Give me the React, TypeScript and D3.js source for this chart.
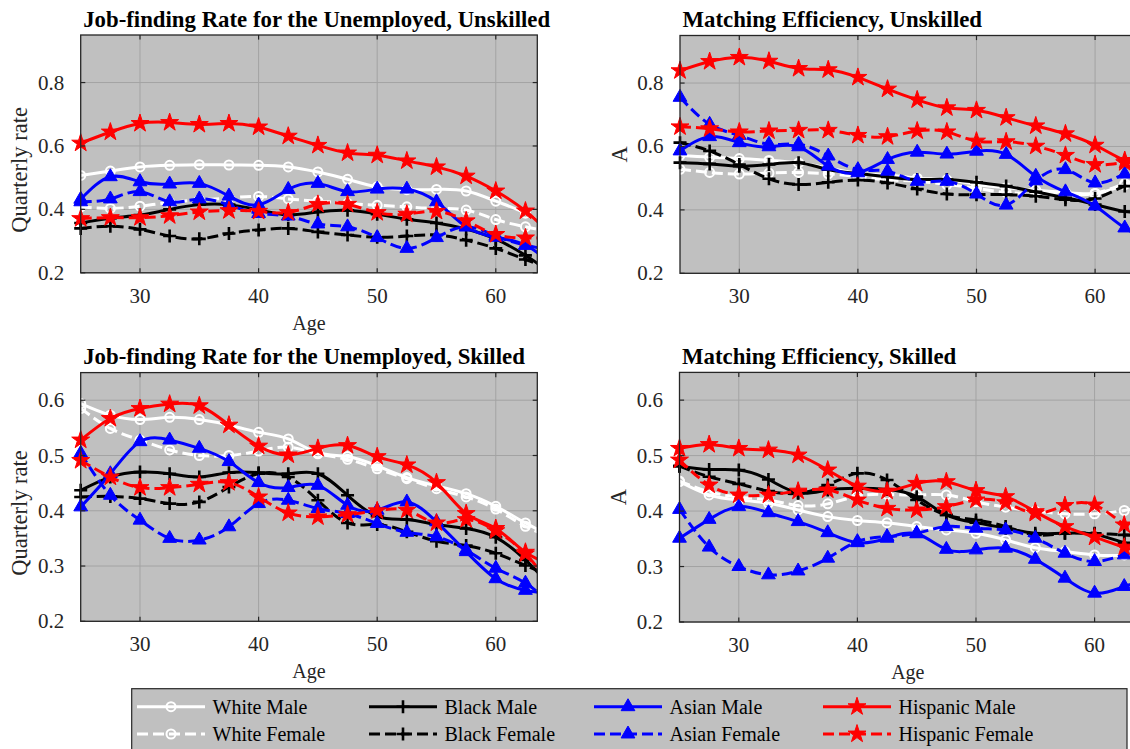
import React from "react";
import * as d3 from "d3";

// Ages at which each series is evaluated (the last one lies just past the axis limit)
const ages = [25, 27.5, 30, 32.5, 35, 37.5, 40, 42.5, 45, 47.5, 50, 52.5, 55, 57.5, 60, 62.5, 65];
const ageTicks = [30, 40, 50, 60];

// Job-finding rate for the unemployed, unskilled
const jfUnskWhiteMale = [0.507, 0.521, 0.534, 0.539, 0.541, 0.54, 0.539, 0.534, 0.518, 0.495, 0.471, 0.462, 0.463, 0.458, 0.426, 0.388, 0.33];
const jfUnskWhiteFemale = [0.408, 0.403, 0.41, 0.422, 0.43, 0.436, 0.441, 0.433, 0.426, 0.419, 0.413, 0.408, 0.403, 0.398, 0.368, 0.345, 0.325];
const jfUnskBlackMale = [0.357, 0.372, 0.382, 0.4, 0.415, 0.415, 0.398, 0.383, 0.392, 0.397, 0.385, 0.369, 0.357, 0.338, 0.306, 0.255, 0.19];
const jfUnskBlackFemale = [0.34, 0.347, 0.337, 0.316, 0.307, 0.324, 0.335, 0.34, 0.329, 0.319, 0.312, 0.316, 0.319, 0.303, 0.277, 0.242, 0.21];
const jfUnskAsianMale = [0.432, 0.503, 0.487, 0.48, 0.482, 0.442, 0.414, 0.463, 0.482, 0.456, 0.464, 0.464, 0.424, 0.345, 0.312, 0.287, 0.22];
const jfUnskAsianFemale = [0.424, 0.433, 0.456, 0.424, 0.433, 0.414, 0.387, 0.379, 0.354, 0.345, 0.311, 0.277, 0.311, 0.345, 0.316, 0.287, 0.27];
const jfUnskHispanicMale = [0.609, 0.644, 0.671, 0.674, 0.668, 0.671, 0.66, 0.631, 0.602, 0.578, 0.571, 0.553, 0.534, 0.505, 0.458, 0.395, 0.31];
const jfUnskHispanicFemale = [0.371, 0.374, 0.374, 0.38, 0.392, 0.396, 0.394, 0.39, 0.416, 0.416, 0.39, 0.385, 0.394, 0.364, 0.321, 0.31, 0.31];

// Matching efficiency, unskilled
const meUnskWhiteMale = [0.572, 0.566, 0.562, 0.556, 0.548, 0.532, 0.515, 0.51, 0.5, 0.495, 0.48, 0.47, 0.462, 0.455, 0.452, 0.48, 0.52];
const meUnskWhiteFemale = [0.528, 0.518, 0.513, 0.516, 0.518, 0.514, 0.505, 0.495, 0.49, 0.48, 0.468, 0.455, 0.452, 0.448, 0.452, 0.483, 0.51];
const meUnskBlackMale = [0.549, 0.545, 0.538, 0.543, 0.549, 0.527, 0.515, 0.504, 0.496, 0.496, 0.487, 0.475, 0.457, 0.438, 0.417, 0.395, 0.39];
const meUnskBlackFemale = [0.612, 0.586, 0.543, 0.498, 0.48, 0.487, 0.494, 0.485, 0.466, 0.45, 0.448, 0.448, 0.443, 0.432, 0.436, 0.475, 0.5];
const meUnskAsianMale = [0.586, 0.631, 0.612, 0.599, 0.599, 0.538, 0.517, 0.559, 0.582, 0.576, 0.585, 0.575, 0.506, 0.457, 0.412, 0.343, 0.3];
const meUnskAsianFemale = [0.755, 0.67, 0.635, 0.607, 0.607, 0.57, 0.527, 0.522, 0.49, 0.49, 0.45, 0.415, 0.492, 0.527, 0.485, 0.513, 0.53];
const meUnskHispanicMale = [0.839, 0.868, 0.881, 0.869, 0.846, 0.842, 0.818, 0.781, 0.747, 0.722, 0.714, 0.691, 0.665, 0.64, 0.604, 0.556, 0.53];
const meUnskHispanicFemale = [0.662, 0.656, 0.646, 0.649, 0.651, 0.651, 0.635, 0.631, 0.649, 0.646, 0.617, 0.615, 0.601, 0.572, 0.543, 0.549, 0.55];

// Job-finding rate for the unemployed, skilled
const jfSkWhiteMale = [0.594, 0.573, 0.565, 0.569, 0.565, 0.555, 0.542, 0.53, 0.505, 0.498, 0.481, 0.46, 0.445, 0.431, 0.408, 0.378, 0.35];
const jfSkWhiteFemale = [0.585, 0.549, 0.528, 0.51, 0.5, 0.5, 0.508, 0.515, 0.503, 0.493, 0.476, 0.458, 0.44, 0.425, 0.403, 0.372, 0.35];
const jfSkBlackMale = [0.437, 0.461, 0.47, 0.467, 0.461, 0.469, 0.469, 0.467, 0.467, 0.428, 0.39, 0.384, 0.375, 0.368, 0.352, 0.311, 0.255];
const jfSkBlackFemale = [0.425, 0.426, 0.422, 0.413, 0.416, 0.443, 0.467, 0.461, 0.419, 0.378, 0.375, 0.362, 0.345, 0.337, 0.323, 0.301, 0.28];
const jfSkAsianMale = [0.407, 0.467, 0.525, 0.528, 0.513, 0.489, 0.451, 0.442, 0.446, 0.41, 0.401, 0.416, 0.38, 0.326, 0.277, 0.256, 0.25];
const jfSkAsianFemale = [0.504, 0.428, 0.383, 0.35, 0.347, 0.371, 0.413, 0.419, 0.404, 0.395, 0.377, 0.361, 0.353, 0.329, 0.296, 0.269, 0.225];
const jfSkHispanicMale = [0.528, 0.567, 0.585, 0.593, 0.59, 0.555, 0.517, 0.501, 0.513, 0.518, 0.498, 0.483, 0.451, 0.395, 0.368, 0.325, 0.3];
const jfSkHispanicFemale = [0.491, 0.461, 0.442, 0.442, 0.448, 0.451, 0.425, 0.396, 0.389, 0.393, 0.4, 0.401, 0.378, 0.384, 0.364, 0.322, 0.255];

// Matching efficiency, skilled
const meSkWhiteMale = [0.453, 0.429, 0.42, 0.414, 0.402, 0.39, 0.383, 0.379, 0.372, 0.366, 0.36, 0.348, 0.334, 0.327, 0.321, 0.321, 0.33];
const meSkWhiteFemale = [0.454, 0.435, 0.425, 0.42, 0.41, 0.413, 0.427, 0.43, 0.429, 0.429, 0.417, 0.407, 0.4, 0.395, 0.395, 0.401, 0.41];
const meSkBlackMale = [0.481, 0.475, 0.474, 0.457, 0.433, 0.438, 0.441, 0.439, 0.426, 0.393, 0.379, 0.369, 0.36, 0.36, 0.358, 0.343, 0.33];
const meSkBlackFemale = [0.481, 0.462, 0.449, 0.436, 0.432, 0.447, 0.468, 0.456, 0.42, 0.393, 0.384, 0.372, 0.357, 0.36, 0.36, 0.357, 0.355];
const meSkAsianMale = [0.351, 0.385, 0.408, 0.397, 0.381, 0.361, 0.343, 0.351, 0.359, 0.331, 0.33, 0.333, 0.313, 0.279, 0.252, 0.264, 0.28];
const meSkAsianFemale = [0.403, 0.335, 0.3, 0.285, 0.292, 0.315, 0.345, 0.354, 0.36, 0.372, 0.369, 0.366, 0.351, 0.324, 0.309, 0.321, 0.33];
const meSkHispanicMale = [0.513, 0.52, 0.513, 0.51, 0.501, 0.474, 0.445, 0.436, 0.45, 0.453, 0.437, 0.426, 0.399, 0.372, 0.353, 0.335, 0.32];
const meSkHispanicFemale = [0.492, 0.447, 0.429, 0.429, 0.436, 0.438, 0.42, 0.405, 0.402, 0.408, 0.42, 0.415, 0.396, 0.41, 0.411, 0.375, 0.34];

const groupNames = ["White Male", "White Female", "Black Male", "Black Female", "Asian Male", "Asian Female", "Hispanic Male", "Hispanic Female"];
const yTicksWide = [0.2, 0.4, 0.6, 0.8];
const yTicksNarrow = [0.2, 0.3, 0.4, 0.5, 0.6];

type Marker = "circle" | "plus" | "triangle" | "star";
interface Style { color: string; dashed: boolean; marker: Marker }

const styles: Style[] = [
  { color: "#ffffff", dashed: false, marker: "circle" },
  { color: "#ffffff", dashed: true, marker: "circle" },
  { color: "#000000", dashed: false, marker: "plus" },
  { color: "#000000", dashed: true, marker: "plus" },
  { color: "#0000ff", dashed: false, marker: "triangle" },
  { color: "#0000ff", dashed: true, marker: "triangle" },
  { color: "#ff0000", dashed: false, marker: "star" },
  { color: "#ff0000", dashed: true, marker: "star" },
];

const FONT = "'Liberation Serif', 'Times New Roman', serif";
const AXIS_COLOR = "#262626";
const PLOT_BG = "#c0c0c0";
const GRID = "#a3a3a3";
const LINE_W = 3;
const DASH = "11 5";
const PLOT_W = 456.6;
const X_DOMAIN: [number, number] = [25, 63.5];

interface PanelSpec {
  id: string;
  title: string;
  yLabel: string;
  yLabelShift: number;
  yDomain: [number, number];
  yTicks: number[];
  left: number;
  top: number;
  bottom: number;
  showAge: boolean;
  series: number[][];
}

const panels: PanelSpec[] = [
  {
    id: "p1", title: "Job-finding Rate for the Unemployed, Unskilled", yLabel: "Quarterly rate", yLabelShift: 16,
    yDomain: [0.2, 0.95], yTicks: yTicksWide, left: 80.7, top: 35, bottom: 272.8, showAge: true,
    series: [jfUnskWhiteMale, jfUnskWhiteFemale, jfUnskBlackMale, jfUnskBlackFemale, jfUnskAsianMale, jfUnskAsianFemale, jfUnskHispanicMale, jfUnskHispanicFemale],
  },
  {
    id: "p2", title: "Matching Efficiency, Unskilled", yLabel: "A", yLabelShift: 0,
    yDomain: [0.2, 0.95], yTicks: yTicksWide, left: 680, top: 35.5, bottom: 273.3, showAge: false,
    series: [meUnskWhiteMale, meUnskWhiteFemale, meUnskBlackMale, meUnskBlackFemale, meUnskAsianMale, meUnskAsianFemale, meUnskHispanicMale, meUnskHispanicFemale],
  },
  {
    id: "p3", title: "Job-finding Rate for the Unemployed, Skilled", yLabel: "Quarterly rate", yLabelShift: 16,
    yDomain: [0.2, 0.65], yTicks: yTicksNarrow, left: 80.7, top: 372.6, bottom: 621.3, showAge: true,
    series: [jfSkWhiteMale, jfSkWhiteFemale, jfSkBlackMale, jfSkBlackFemale, jfSkAsianMale, jfSkAsianFemale, jfSkHispanicMale, jfSkHispanicFemale],
  },
  {
    id: "p4", title: "Matching Efficiency, Skilled", yLabel: "A", yLabelShift: 0,
    yDomain: [0.2, 0.65], yTicks: yTicksNarrow, left: 679.5, top: 372.4, bottom: 622, showAge: true,
    series: [meSkWhiteMale, meSkWhiteFemale, meSkBlackMale, meSkBlackFemale, meSkAsianMale, meSkAsianFemale, meSkHispanicMale, meSkHispanicFemale],
  },
];

const starPath = d3.symbol().type(d3.symbolStar).size(100)() as string;
const trianglePath = d3.symbol().type(d3.symbolTriangle).size(82)() as string;

function MarkerGlyph({ s, cx, cy }: { s: Style; cx: number; cy: number }) {
  const t = `translate(${cx},${cy})`;
  switch (s.marker) {
    case "circle":
      return <circle cx={cx} cy={cy} r={4.5} fill="none" stroke={s.color} strokeWidth={2} />;
    case "plus":
      return <path transform={t} d="M-6.5,0H6.5M0,-6.5V6.5" stroke={s.color} strokeWidth={2.6} fill="none" />;
    case "triangle":
      return <path transform={t} d={trianglePath} fill={s.color} stroke={s.color} strokeWidth={1} />;
    default:
      return <path transform={t} d={starPath} fill={s.color} stroke={s.color} strokeWidth={1} />;
  }
}

function Panel({ p }: { p: PanelSpec }) {
  const right = p.left + PLOT_W;
  const x = d3.scaleLinear().domain(X_DOMAIN).range([p.left, right]);
  const y = d3.scaleLinear().domain(p.yDomain).range([p.bottom, p.top]);
  const line = d3
    .line<number>()
    .x((_, i) => x(ages[i]))
    .y((d) => y(d))
    .curve(d3.curveNatural);
  const fmt = d3.format(".1f");
  const tickLen = 4.6;
  const midY = (p.top + p.bottom) / 2;

  return (
    <g>
      <defs>
        <clipPath id={`clip-${p.id}`}>
          <rect x={p.left} y={p.top} width={PLOT_W} height={p.bottom - p.top} />
        </clipPath>
      </defs>
      <rect x={p.left} y={p.top} width={PLOT_W} height={p.bottom - p.top} fill={PLOT_BG} />
      {/* grid */}
      {ageTicks.map((t) => (
        <line key={`gx${t}`} x1={x(t)} x2={x(t)} y1={p.top} y2={p.bottom} stroke={GRID} strokeWidth={1} />
      ))}
      {p.yTicks.map((t) => (
        <line key={`gy${t}`} x1={p.left} x2={right} y1={y(t)} y2={y(t)} stroke={GRID} strokeWidth={1} />
      ))}
      {/* series */}
      {p.series.map((vals, si) => {
        const s = styles[si];
        return (
          <g key={si}>
            <path
              d={line(vals) as string}
              clipPath={`url(#clip-${p.id})`}
              fill="none"
              stroke={s.color}
              strokeWidth={LINE_W}
              strokeDasharray={s.dashed ? DASH : undefined}
              strokeLinejoin="round"
            />
            {vals.map((v, i) =>
              ages[i] <= X_DOMAIN[1] ? <MarkerGlyph key={i} s={s} cx={x(ages[i])} cy={y(v)} /> : null
            )}
          </g>
        );
      })}
      {/* box and inward ticks */}
      <rect x={p.left} y={p.top} width={PLOT_W} height={p.bottom - p.top} fill="none" stroke={AXIS_COLOR} strokeWidth={1.3} />
      {ageTicks.map((t) => (
        <g key={`tx${t}`}>
          <line x1={x(t)} x2={x(t)} y1={p.bottom} y2={p.bottom - tickLen} stroke={AXIS_COLOR} strokeWidth={1.2} />
          <line x1={x(t)} x2={x(t)} y1={p.top} y2={p.top + tickLen} stroke={AXIS_COLOR} strokeWidth={1.2} />
          <text x={x(t)} y={p.bottom + 30} textAnchor="middle" fontFamily={FONT} fontSize={21} fill={AXIS_COLOR}>
            {t}
          </text>
        </g>
      ))}
      {p.yTicks.map((t) => (
        <g key={`ty${t}`}>
          <line x1={p.left} x2={p.left + tickLen} y1={y(t)} y2={y(t)} stroke={AXIS_COLOR} strokeWidth={1.2} />
          <line x1={right} x2={right - tickLen} y1={y(t)} y2={y(t)} stroke={AXIS_COLOR} strokeWidth={1.2} />
          <text x={p.left - 16.5} y={y(t) + 7} textAnchor="end" fontFamily={FONT} fontSize={21} fill={AXIS_COLOR}>
            {fmt(t)}
          </text>
        </g>
      ))}
      {/* labels */}
      <text x={p.left + 2.5} y={p.top - 8.5} fontFamily={FONT} fontWeight="bold" fontSize={22.8} fill="#000">
        {p.title}
      </text>
      <text
        transform={`translate(${p.left - 53.5},${midY + p.yLabelShift}) rotate(-90)`}
        textAnchor="middle"
        fontFamily={FONT}
        fontSize={22.5}
        fill={AXIS_COLOR}
      >
        {p.yLabel}
      </text>
      {p.showAge && (
        <text x={(p.left + right) / 2} y={p.bottom + 57} textAnchor="middle" fontFamily={FONT} fontSize={20} fill={AXIS_COLOR}>
          Age
        </text>
      )}
    </g>
  );
}

const legendCols = [137, 369, 594, 823];
const legendRows = [706.7, 734];

function Legend() {
  return (
    <g>
      <rect x={131.7} y={688.7} width={995.3} height={75} fill={PLOT_BG} stroke={AXIS_COLOR} strokeWidth={1.2} />
      {groupNames.map((name, i) => {
        const s = styles[i];
        const cx = legendCols[Math.floor(i / 2)];
        const cy = legendRows[i % 2];
        return (
          <g key={name}>
            <line
              x1={cx}
              x2={cx + 68}
              y1={cy}
              y2={cy}
              stroke={s.color}
              strokeWidth={LINE_W}
              strokeDasharray={s.dashed ? DASH : undefined}
            />
            <MarkerGlyph s={s} cx={cx + 34} cy={cy} />
            <text x={cx + 75.5} y={cy + 7} fontFamily={FONT} fontSize={20} fill="#000">
              {name}
            </text>
          </g>
        );
      })}
    </g>
  );
}

export default function App() {
  return (
    <svg
      width={1130}
      height={749}
      style={{ position: "absolute", left: 0, top: 0, display: "block", background: "#ffffff" }}
    >
      {panels.map((p) => (
        <Panel key={p.id} p={p} />
      ))}
      <Legend />
    </svg>
  );
}
